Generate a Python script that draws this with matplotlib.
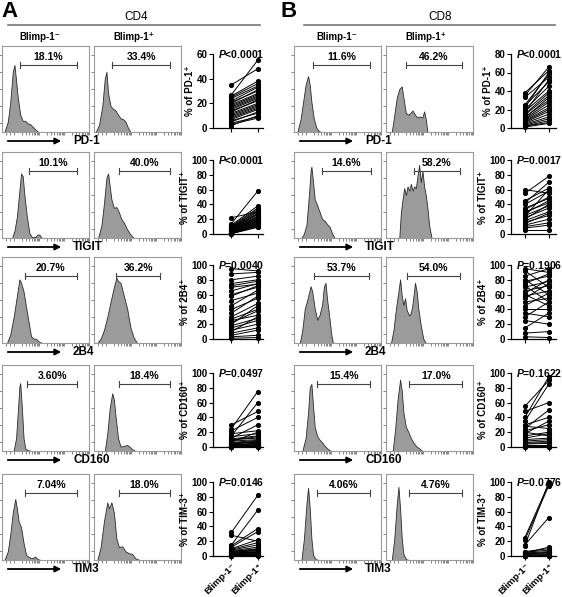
import numpy as np
import matplotlib
matplotlib.use("Agg")
import matplotlib.pyplot as plt
from matplotlib.patches import FancyArrowPatch

plt.rcParams['font.family'] = ['Liberation Sans', 'DejaVu Sans']
plt.rcParams['mathtext.fontset'] = 'custom'
plt.rcParams['mathtext.rm'] = 'Liberation Sans:bold'
plt.rcParams['mathtext.it'] = 'Liberation Sans:italic:bold'
plt.rcParams['mathtext.bf'] = 'Liberation Sans:bold'

W, H = 562, 597

markers = ['PD-1', 'TIGIT', '2B4', 'CD160', 'TIM3']
ylabels = ['PD-1', 'TIGIT', '2B4', 'CD160', 'TIM-3']

# ---- histogram shapes (x, y as fraction of the plot box) ----
cd4_pd1_neg_x = [0.03, 0.07, 0.10, 0.13, 0.15, 0.17, 0.19, 0.22, 0.25, 0.28, 0.31, 0.34, 0.37, 0.40, 0.44]
cd4_pd1_neg_y = [0.0, 0.12, 0.35, 0.70, 0.78, 0.60, 0.40, 0.20, 0.13, 0.13, 0.10, 0.09, 0.06, 0.03, 0.0]
cd4_pd1_pos_x = [0.02, 0.06, 0.10, 0.13, 0.15, 0.17, 0.20, 0.23, 0.26, 0.29, 0.32, 0.35, 0.38, 0.41, 0.44]
cd4_pd1_pos_y = [0.0, 0.08, 0.30, 0.62, 0.70, 0.45, 0.30, 0.27, 0.25, 0.20, 0.16, 0.15, 0.12, 0.05, 0.0]
cd4_tigit_neg_x = [0.12, 0.15, 0.18, 0.21, 0.23, 0.25, 0.27, 0.30, 0.33, 0.36, 0.40, 0.43, 0.45, 0.48]
cd4_tigit_neg_y = [0.0, 0.08, 0.25, 0.55, 0.75, 0.72, 0.50, 0.25, 0.06, 0.01, 0.01, 0.04, 0.04, 0.0]
cd4_tigit_pos_x = [0.05, 0.09, 0.12, 0.15, 0.17, 0.19, 0.21, 0.24, 0.27, 0.30, 0.33, 0.36, 0.40, 0.44, 0.48]
cd4_tigit_pos_y = [0.0, 0.15, 0.40, 0.70, 0.75, 0.60, 0.45, 0.35, 0.36, 0.30, 0.22, 0.18, 0.10, 0.04, 0.0]
cd4_2b4_neg_x = [0.06, 0.10, 0.14, 0.18, 0.21, 0.23, 0.26, 0.29, 0.32, 0.35, 0.38, 0.41, 0.44, 0.48]
cd4_2b4_neg_y = [0.0, 0.10, 0.30, 0.55, 0.74, 0.70, 0.60, 0.42, 0.25, 0.08, 0.05, 0.05, 0.02, 0.0]
cd4_2b4_pos_x = [0.04, 0.08, 0.12, 0.16, 0.20, 0.24, 0.27, 0.29, 0.32, 0.36, 0.40, 0.44, 0.48, 0.52]
cd4_2b4_pos_y = [0.0, 0.05, 0.15, 0.30, 0.48, 0.65, 0.76, 0.72, 0.70, 0.55, 0.40, 0.18, 0.06, 0.0]
cd4_cd160_neg_x = [0.14, 0.17, 0.19, 0.21, 0.22, 0.24, 0.26, 0.28, 0.31, 0.35]
cd4_cd160_neg_y = [0.0, 0.15, 0.45, 0.75, 0.79, 0.50, 0.15, 0.03, 0.01, 0.0]
cd4_cd160_pos_x = [0.13, 0.16, 0.19, 0.22, 0.24, 0.26, 0.29, 0.32, 0.36, 0.40, 0.43, 0.46, 0.50]
cd4_cd160_pos_y = [0.0, 0.20, 0.50, 0.67, 0.60, 0.40, 0.15, 0.05, 0.06, 0.07, 0.05, 0.02, 0.0]
cd4_tim3_neg_x = [0.03, 0.07, 0.10, 0.13, 0.16, 0.18, 0.20, 0.23, 0.26, 0.29, 0.33, 0.37, 0.40, 0.43, 0.47]
cd4_tim3_neg_y = [0.0, 0.10, 0.30, 0.55, 0.71, 0.60, 0.45, 0.38, 0.20, 0.06, 0.03, 0.02, 0.04, 0.01, 0.0]
cd4_tim3_pos_x = [0.04, 0.08, 0.12, 0.16, 0.18, 0.21, 0.24, 0.27, 0.30, 0.34, 0.38, 0.42, 0.46, 0.50, 0.55]
cd4_tim3_pos_y = [0.0, 0.15, 0.45, 0.67, 0.60, 0.67, 0.55, 0.25, 0.15, 0.16, 0.10, 0.08, 0.07, 0.02, 0.0]

cd8_pd1_neg_x = [0.04, 0.08, 0.11, 0.14, 0.17, 0.19, 0.21, 0.24, 0.27, 0.30, 0.33]
cd8_pd1_neg_y = [0.0, 0.15, 0.35, 0.55, 0.65, 0.55, 0.35, 0.15, 0.05, 0.01, 0.0]
cd8_pd1_pos_x = [0.07, 0.10, 0.13, 0.16, 0.19, 0.21, 0.24, 0.27, 0.30, 0.32, 0.35, 0.38, 0.41, 0.44, 0.46, 0.48, 0.50]
cd8_pd1_pos_y = [0.0, 0.20, 0.40, 0.50, 0.53, 0.40, 0.22, 0.20, 0.23, 0.25, 0.20, 0.17, 0.18, 0.17, 0.24, 0.15, 0.0]
cd8_tigit_neg_x = [0.09, 0.12, 0.15, 0.18, 0.20, 0.21, 0.23, 0.25, 0.28, 0.31, 0.34, 0.37, 0.40, 0.43, 0.46, 0.49]
cd8_tigit_neg_y = [0.0, 0.05, 0.15, 0.50, 0.78, 0.83, 0.65, 0.45, 0.38, 0.30, 0.22, 0.20, 0.16, 0.13, 0.05, 0.0]
cd8_tigit_pos_x = [0.16, 0.18, 0.20, 0.22, 0.24, 0.26, 0.28, 0.30, 0.32, 0.34, 0.36, 0.38, 0.40, 0.42, 0.44, 0.46, 0.48, 0.50, 0.52, 0.55]
cd8_tigit_pos_y = [0.0, 0.30, 0.45, 0.58, 0.50, 0.60, 0.55, 0.63, 0.55, 0.60, 0.58, 0.72, 0.85, 0.65, 0.78, 0.60, 0.50, 0.35, 0.15, 0.0]
cd8_2b4_neg_x = [0.07, 0.10, 0.13, 0.16, 0.18, 0.20, 0.22, 0.25, 0.28, 0.31, 0.34, 0.36, 0.38, 0.40, 0.42, 0.45, 0.47]
cd8_2b4_neg_y = [0.0, 0.15, 0.40, 0.50, 0.58, 0.66, 0.60, 0.40, 0.27, 0.33, 0.45, 0.65, 0.70, 0.50, 0.35, 0.10, 0.0]
cd8_2b4_pos_x = [0.06, 0.09, 0.12, 0.15, 0.17, 0.19, 0.21, 0.23, 0.25, 0.28, 0.30, 0.32, 0.35, 0.37, 0.39, 0.42, 0.45, 0.48]
cd8_2b4_pos_y = [0.0, 0.15, 0.40, 0.60, 0.74, 0.55, 0.44, 0.52, 0.38, 0.32, 0.35, 0.45, 0.70, 0.60, 0.40, 0.20, 0.05, 0.0]
cd8_cd160_neg_x = [0.10, 0.14, 0.17, 0.19, 0.21, 0.23, 0.25, 0.28, 0.31, 0.34, 0.37, 0.40, 0.44]
cd8_cd160_neg_y = [0.0, 0.15, 0.45, 0.74, 0.78, 0.52, 0.28, 0.17, 0.13, 0.10, 0.06, 0.03, 0.0]
cd8_cd160_pos_x = [0.08, 0.11, 0.14, 0.17, 0.19, 0.21, 0.24, 0.27, 0.30, 0.33, 0.36, 0.40, 0.44]
cd8_cd160_pos_y = [0.0, 0.25, 0.60, 0.83, 0.70, 0.45, 0.28, 0.22, 0.15, 0.10, 0.06, 0.03, 0.0]
cd8_tim3_neg_x = [0.09, 0.12, 0.15, 0.17, 0.19, 0.21, 0.23, 0.26, 0.30]
cd8_tim3_neg_y = [0.0, 0.25, 0.65, 0.84, 0.60, 0.25, 0.06, 0.01, 0.0]
cd8_tim3_pos_x = [0.07, 0.10, 0.13, 0.15, 0.17, 0.19, 0.21, 0.24, 0.28]
cd8_tim3_pos_y = [0.0, 0.25, 0.65, 0.85, 0.60, 0.25, 0.07, 0.01, 0.0]

# gates (start, end as box fraction) and gate percentages
cd4_gates_neg = [(0.22, 0.90), (0.33, 0.91), (0.28, 0.90), (0.30, 0.91), (0.28, 0.90)]
cd4_gates_pos = [(0.22, 0.92), (0.30, 0.92), (0.27, 0.80), (0.30, 0.92), (0.30, 0.92)]
cd8_gates_neg = [(0.23, 0.92), (0.34, 0.93), (0.24, 0.91), (0.28, 0.92), (0.28, 0.92)]
cd8_gates_pos = [(0.24, 0.92), (0.34, 0.89), (0.25, 0.89), (0.28, 0.92), (0.28, 0.92)]
cd4_pct_neg = ['18.1%', '10.1%', '20.7%', '3.60%', '7.04%']
cd4_pct_pos = ['33.4%', '40.0%', '36.2%', '18.4%', '18.0%']
cd8_pct_neg = ['11.6%', '14.6%', '53.7%', '15.4%', '4.06%']
cd8_pct_pos = ['46.2%', '58.2%', '54.0%', '17.0%', '4.76%']

# ---- paired percentages (Blimp-1- vs Blimp-1+) ----
cd4_pd1_neg = [35, 27, 26, 25, 24, 22, 21, 20, 19, 18, 17, 16, 15, 14, 13, 12, 11, 10, 9, 8, 7, 6, 5, 4, 3, 2]
cd4_pd1_pos = [48, 55, 38, 36, 34, 33, 30, 31, 28, 27, 26, 25, 24, 22, 23, 20, 19, 18, 17, 16, 15, 12, 13, 9, 8, 10]
cd4_tigit_neg = [22, 14, 12, 11, 10, 9, 9, 8, 8, 7, 7, 6, 6, 5, 5, 4, 4, 3, 3, 2, 2, 1, 1, 1, 0.5, 0.5]
cd4_tigit_pos = [30, 58, 38, 35, 33, 31, 30, 28, 27, 26, 24, 23, 22, 21, 20, 19, 18, 17, 16, 15, 14, 13, 12, 11, 10, 9]
cd4_2b4_neg = [95, 88, 80, 75, 72, 70, 65, 60, 58, 52, 45, 40, 35, 30, 27, 25, 22, 20, 18, 15, 12, 10, 8, 5, 3, 1]
cd4_2b4_pos = [92, 90, 85, 80, 78, 74, 75, 70, 72, 62, 66, 55, 58, 48, 40, 32, 38, 45, 28, 25, 20, 30, 15, 12, 5, 2]
cd4_cd160_neg = [30, 25, 22, 18, 15, 14, 12, 11, 10, 9, 8, 7, 6, 5, 5, 4, 3, 3, 2, 2, 1, 1, 0.5, 0.5, 0, 0]
cd4_cd160_pos = [48, 75, 40, 22, 60, 18, 30, 15, 12, 14, 10, 20, 9, 8, 6, 7, 5, 4, 3, 5, 2, 3, 1, 1, 0.5, 0]
cd4_tim3_neg = [32, 28, 15, 14, 12, 10, 9, 8, 7, 6, 6, 5, 5, 4, 4, 3, 3, 2, 2, 1, 1, 0.5, 0.5, 0]
cd4_tim3_pos = [82, 20, 62, 37, 33, 22, 18, 15, 12, 10, 9, 8, 7, 6, 5, 5, 4, 3, 3, 2, 2, 1, 1, 0.5]
cd8_pd1_neg = [38, 35, 33, 25, 24, 22, 20, 18, 17, 15, 14, 12, 11, 10, 9, 8, 7, 6, 5, 4, 3, 2, 2, 1]
cd8_pd1_pos = [62, 66, 55, 58, 50, 60, 45, 40, 52, 38, 35, 30, 33, 28, 25, 22, 20, 18, 15, 12, 10, 8, 6, 5]
cd8_tigit_neg = [60, 55, 45, 42, 40, 35, 33, 30, 28, 25, 24, 22, 20, 18, 16, 14, 12, 10, 8, 5]
cd8_tigit_pos = [55, 78, 62, 70, 58, 48, 50, 42, 45, 38, 60, 35, 40, 30, 25, 28, 20, 15, 12, 5]
cd8_2b4_neg = [95, 92, 85, 80, 78, 75, 72, 70, 65, 62, 60, 58, 55, 50, 45, 40, 35, 30, 25, 15, 8, 3]
cd8_2b4_pos = [90, 70, 95, 60, 85, 88, 50, 78, 72, 80, 45, 65, 75, 55, 62, 40, 30, 50, 20, 35, 10, 2]
cd8_cd160_neg = [55, 48, 40, 35, 30, 28, 25, 22, 20, 18, 15, 12, 10, 8, 6, 5, 4, 3, 2, 1, 0.5, 0]
cd8_cd160_pos = [90, 60, 95, 85, 40, 25, 50, 30, 15, 35, 20, 18, 12, 10, 8, 6, 5, 3, 2, 1, 0.5, 0]
cd8_tim3_neg = [25, 22, 15, 14, 6, 5, 4, 4, 3, 3, 2, 2, 1, 1, 0.5, 0.5, 0, 0]
cd8_tim3_pos = [98, 95, 52, 100, 10, 8, 12, 6, 5, 4, 3, 2, 2, 1, 1, 0.5, 0.5, 0]

cd4_pvals = ['<0.0001', '<0.0001', '=0.0040', '=0.0497', '=0.0146']
cd8_pvals = ['<0.0001', '=0.0017', '=0.1906', '=0.1622', '=0.0776']
cd4_ymax = [60, 100, 100, 100, 100]
cd8_ymax = [80, 100, 100, 100, 100]

panels = [
    dict(letter='A', letter_x=1, title='CD4', x0=2, title_x=136, rule=(8, 260), heads=(40, 134),
         sx=213, sw=50, sxlim=(-0.7, 1.2),
         hists=[(cd4_pd1_neg_x, cd4_pd1_neg_y, cd4_pd1_pos_x, cd4_pd1_pos_y),
                (cd4_tigit_neg_x, cd4_tigit_neg_y, cd4_tigit_pos_x, cd4_tigit_pos_y),
                (cd4_2b4_neg_x, cd4_2b4_neg_y, cd4_2b4_pos_x, cd4_2b4_pos_y),
                (cd4_cd160_neg_x, cd4_cd160_neg_y, cd4_cd160_pos_x, cd4_cd160_pos_y),
                (cd4_tim3_neg_x, cd4_tim3_neg_y, cd4_tim3_pos_x, cd4_tim3_pos_y)],
         gates=(cd4_gates_neg, cd4_gates_pos), pct=(cd4_pct_neg, cd4_pct_pos),
         pairs=[(cd4_pd1_neg, cd4_pd1_pos), (cd4_tigit_neg, cd4_tigit_pos),
                (cd4_2b4_neg, cd4_2b4_pos), (cd4_cd160_neg, cd4_cd160_pos),
                (cd4_tim3_neg, cd4_tim3_pos)],
         pvals=cd4_pvals, ymax=cd4_ymax),
    dict(letter='B', letter_x=281, title='CD8', x0=294, title_x=440, rule=(304, 555), heads=(337, 426),
         sx=511, sw=45, sxlim=(-0.58, 1.3),
         hists=[(cd8_pd1_neg_x, cd8_pd1_neg_y, cd8_pd1_pos_x, cd8_pd1_pos_y),
                (cd8_tigit_neg_x, cd8_tigit_neg_y, cd8_tigit_pos_x, cd8_tigit_pos_y),
                (cd8_2b4_neg_x, cd8_2b4_neg_y, cd8_2b4_pos_x, cd8_2b4_pos_y),
                (cd8_cd160_neg_x, cd8_cd160_neg_y, cd8_cd160_pos_x, cd8_cd160_pos_y),
                (cd8_tim3_neg_x, cd8_tim3_neg_y, cd8_tim3_pos_x, cd8_tim3_pos_y)],
         gates=(cd8_gates_neg, cd8_gates_pos), pct=(cd8_pct_neg, cd8_pct_pos),
         pairs=[(cd8_pd1_neg, cd8_pd1_pos), (cd8_tigit_neg, cd8_tigit_pos),
                (cd8_2b4_neg, cd8_2b4_pos), (cd8_cd160_neg, cd8_cd160_pos),
                (cd8_tim3_neg, cd8_tim3_pos)],
         pvals=cd8_pvals, ymax=cd8_ymax),
]

row_tops = [46, 152, 257, 365, 474]
box_w, box_h = 87, 86
col_gap = 5

fig = plt.figure(figsize=(W / 100, H / 100), dpi=100)
fig.patch.set_facecolor('white')


def add_px_axes(left, top, w, h):
    return fig.add_axes([left / W, 1 - (top + h) / H, w / W, h / H])


# overlay in pixel coordinates for headers, rules and arrows
ov = fig.add_axes([0, 0, 1, 1])
ov.set_xlim(0, W)
ov.set_ylim(H, 0)
ov.axis('off')

# log-like decorative ticks of the flow axes
xt = [0.05, 0.1, 0.15]
for d in [0.15, 0.45, 0.75]:
    xt += [d + 0.3 * np.log10(k) for k in range(2, 11)]
yt = [0.1, 0.3, 0.5, 0.7, 0.9]

for p in panels:
    x0 = p['x0']
    ov.text(p['letter_x'], 1, p['letter'], fontsize=16, fontweight='bold', va='top', ha='left')
    ov.text(p['title_x'], 17, p['title'], fontsize=8.5, ha='center', va='center')
    ov.plot(list(p['rule']), [24.5, 24.5], color='#777777', lw=1.2)
    ov.text(p['heads'][0], 37, 'Blimp-1⁻', fontsize=7, fontweight='bold', ha='center', va='center')
    ov.text(p['heads'][1], 37, 'Blimp-1⁺', fontsize=7, fontweight='bold', ha='center', va='center')

    for r in range(5):
        top = row_tops[r]
        for c in range(2):
            hx, hy = p['hists'][r][2 * c], p['hists'][r][2 * c + 1]
            ax = add_px_axes(x0 + c * (box_w + col_gap), top, box_w, box_h)
            ax.fill_between(hx, 0, hy, facecolor='#9b9b9b', edgecolor='#2a2a2a', lw=0.6)
            ax.set_xlim(0, 1)
            ax.set_ylim(0, 1)
            for s in ax.spines.values():
                s.set_color('#9a9a9a')
                s.set_linewidth(0.8)
            ax.set_xticks(xt)
            ax.set_yticks(yt)
            ax.set_xticklabels([])
            ax.set_yticklabels([])
            ax.tick_params(length=2, width=0.5, color='#555555')
            g0, g1 = p['gates'][c][r]
            ax.plot([g0, g1], [0.78, 0.78], color='#444444', lw=0.8)
            ax.plot([g0, g0], [0.745, 0.815], color='#444444', lw=0.8)
            ax.plot([g1, g1], [0.745, 0.815], color='#444444', lw=0.8)
            ax.text((g0 + g1) / 2, 0.815, p['pct'][c][r], fontsize=7.5, fontweight='bold',
                    ha='center', va='bottom')

        # arrow + marker name
        ay = top + box_h + 9
        ov.add_patch(FancyArrowPatch((x0 + 3, ay), (x0 + 62, ay), arrowstyle='-|>',
                                     mutation_scale=9, lw=1.3, color='black'))
        ov.text(x0 + 71, ay, markers[r], fontsize=8.5, fontweight='bold', ha='left', va='center')

        # paired plot
        ymax = p['ymax'][r]
        sax = add_px_axes(p['sx'], top + 8, p['sw'], box_h - 12)
        neg, pos = p['pairs'][r]
        for n, q in zip(neg, pos):
            sax.plot([0, 1], [n, q], '-o', color='black', lw=0.7, ms=2.7, clip_on=False)
        sax.set_xlim(*p['sxlim'])
        sax.set_ylim(0, ymax)
        sax.set_yticks(np.arange(0, ymax + 1, 20))
        sax.spines['top'].set_visible(False)
        sax.spines['right'].set_visible(False)
        sax.spines['left'].set_linewidth(0.9)
        sax.spines['bottom'].set_linewidth(0.9)
        sax.set_xticks([0, 1])
        sax.tick_params(length=3, width=0.8, labelsize=7, pad=1)
        for lab in sax.get_yticklabels():
            lab.set_fontweight('bold')
        sax.set_ylabel('% of ' + ylabels[r] + '⁺', fontsize=7, fontweight='bold', labelpad=1)
        if r == 4:
            sax.set_xticklabels(['Blimp-1⁻', 'Blimp-1⁺'], rotation=45, ha='right',
                                va='top', rotation_mode='anchor', fontsize=6.8,
                                fontweight='bold')
        else:
            sax.set_xticklabels([])
        sax.text(0.1, 1.0, '$\\mathit{P}$' + p['pvals'][r], transform=sax.transAxes,
                 fontsize=7.5, fontweight='bold', ha='left', va='center')

fig.savefig('out.png', dpi=100)
